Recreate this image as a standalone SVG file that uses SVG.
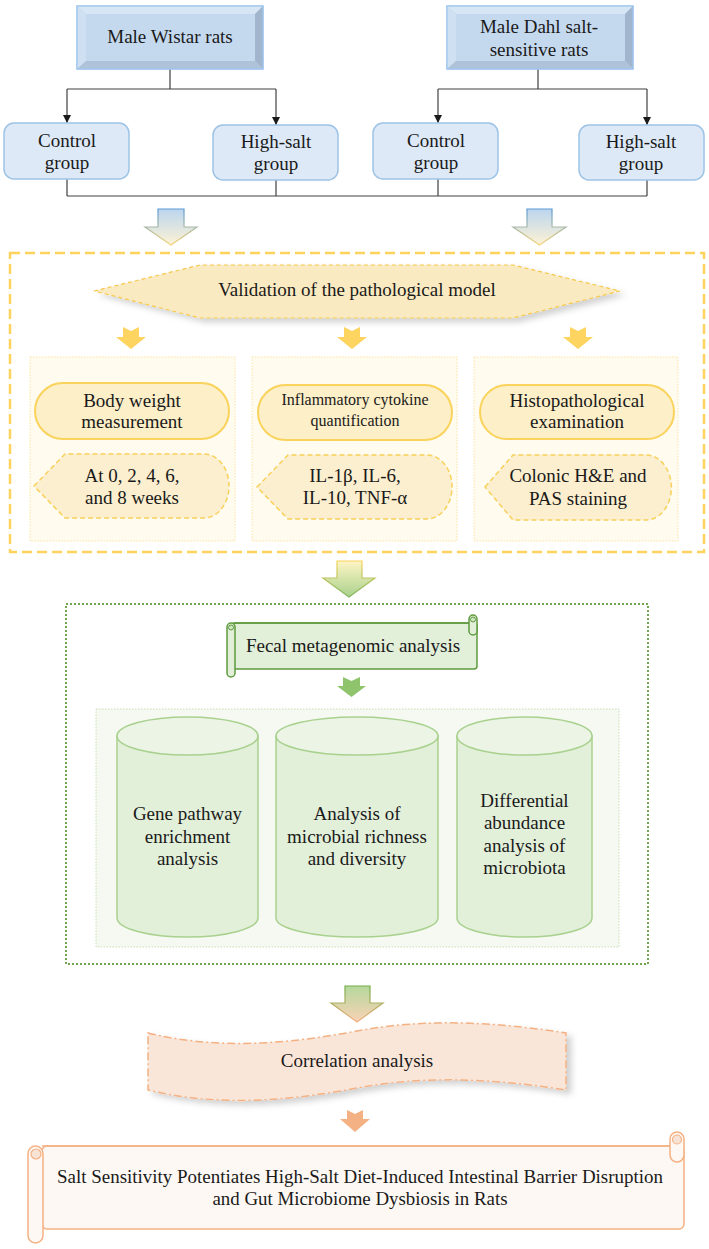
<svg xmlns="http://www.w3.org/2000/svg" width="709" height="1249" viewBox="0 0 709 1249">
<defs>
<style>
text{font-family:"Liberation Serif","Times New Roman",serif;font-size:19px;fill:#1a1a1a;text-anchor:middle}
.sm{font-size:16px}
.grp{fill:#dde9f6;stroke:#9dc3e6;stroke-width:1.5}
.ln{fill:none;stroke:#404040;stroke-width:1.2}
.panelY{fill:#fffbef;stroke:#fbe3a0;stroke-width:1;stroke-dasharray:1.5,1.5}
.pill{fill:#fdefc8;stroke:#fad35c;stroke-width:2}
.pent{fill:#fcefcf;stroke:#f8d15b;stroke-width:1.5;stroke-dasharray:5,3}
.sarY{fill:#fdd45f}
.cylB{fill:#e2efd9;stroke:#a9d18e;stroke-width:1.5}
.cylT{fill:#ebf4e5;stroke:#a9d18e;stroke-width:1.5}
</style>
<marker id="ah" viewBox="0 0 10 10" refX="10" refY="5" markerWidth="8" markerHeight="8" markerUnits="userSpaceOnUse" orient="auto">
<path d="M0,0 L10,5 L0,10 Z" fill="#1a1a1a"/>
</marker>
<linearGradient id="gBA" x1="0" y1="0" x2="0" y2="1"><stop offset="0" stop-color="#bcd5ef"/><stop offset="1" stop-color="#fdf3d4"/></linearGradient>
<linearGradient id="gBAs" x1="0" y1="0" x2="0" y2="1"><stop offset="0" stop-color="#5b9bd5"/><stop offset="1" stop-color="#f4d57b"/></linearGradient>
<linearGradient id="gYG" x1="0" y1="0" x2="0" y2="1"><stop offset="0" stop-color="#fff5c4"/><stop offset="1" stop-color="#a9d18e"/></linearGradient>
<linearGradient id="gYGs" x1="0" y1="0" x2="0" y2="1"><stop offset="0" stop-color="#f5d35c"/><stop offset="1" stop-color="#7fb561"/></linearGradient>
<linearGradient id="gGO" x1="0" y1="0" x2="0" y2="1"><stop offset="0" stop-color="#b5d89c"/><stop offset="1" stop-color="#f9d2b6"/></linearGradient>
<linearGradient id="gGOs" x1="0" y1="0" x2="0" y2="1"><stop offset="0" stop-color="#70ad47"/><stop offset="1" stop-color="#f4b183"/></linearGradient>
<filter id="sh" x="-10%" y="-20%" width="130%" height="150%">
<feDropShadow dx="5" dy="4" stdDeviation="3" flood-color="#000" flood-opacity="0.18"/>
</filter>
</defs>

<!-- connectors -->
<g id="connectors">
<path class="ln" d="M170,69 V89 M67,89 H276 M538,69 V89 M438,89 H647"/>
<path class="ln" d="M67,89 V123" marker-end="url(#ah)"/>
<path class="ln" d="M276,89 V125" marker-end="url(#ah)"/>
<path class="ln" d="M438,89 V123" marker-end="url(#ah)"/>
<path class="ln" d="M647,89 V125" marker-end="url(#ah)"/>
<path class="ln" d="M67,179 V196 M276,180 V196 M438,179 V196 M647,180 V196 M67,196 H647"/>
<path d="M158,209 H184 V227 H197 L171,245 L145,227 H158 Z" fill="url(#gBA)" stroke="url(#gBAs)" stroke-width="1.2"/>
<path d="M527,209 H552 V227 H566 L539.5,245 L513,227 H527 Z" fill="url(#gBA)" stroke="url(#gBAs)" stroke-width="1.2"/>
<path class="sarY" d="M123,327 L131,331 L139,327 V337 H146 L131,349 L116,337 H123 Z"/>
<path class="sarY" d="M344,327 L352,331 L360,327 V337 H367 L352,349 L337,337 H344 Z"/>
<path class="sarY" d="M570,327 L578,331 L586,327 V337 H593 L578,349 L563,337 H570 Z"/>
<path d="M337,561 H362 V578 H375 L349,597 L323,578 H337 Z" fill="url(#gYG)" stroke="url(#gYGs)" stroke-width="1.2"/>
<path d="M343,677 L351.5,681 L360,677 V686 H366 L351.5,697 L337,686 H343 Z" fill="#8fc46c"/>
<path d="M345,986 H370 V1003 H383 L357,1022 L331,1003 H345 Z" fill="url(#gGO)" stroke="url(#gGOs)" stroke-width="1.2"/>
<path d="M347,1110 L355,1114 L363,1110 V1119 H370 L355,1132 L340,1119 H347 Z" fill="#f4b183"/>
</g>

<!-- top nodes -->
<g id="wistar">
<rect x="77" y="6" width="186" height="63" fill="#b8cfe7" stroke="#9fc5ef" stroke-width="1.2"/>
<path d="M77,6 H263 L255,14 H86 Z" fill="#d7e6f5"/>
<path d="M77,6 L86,14 V61 L77,69 Z" fill="#cfe0f2"/>
<path d="M263,6 V69 L255,61 V14 Z" fill="#a1b6cc"/>
<path d="M77,69 H263 L255,61 H86 Z" fill="#aec3d9"/>
<rect x="86" y="14" width="169" height="47" fill="#c5d9ee"/>
<rect x="77" y="6" width="186" height="63" fill="none" stroke="#9fc5ef" stroke-width="1.2"/>
<text x="170" y="43">Male Wistar rats</text>
</g>
<g id="dahl">
<rect x="447" y="6" width="186" height="63" fill="#b8cfe7" stroke="#9fc5ef" stroke-width="1.2"/>
<path d="M447,6 H633 L625,14 H456 Z" fill="#d7e6f5"/>
<path d="M447,6 L456,14 V61 L447,69 Z" fill="#cfe0f2"/>
<path d="M633,6 V69 L625,61 V14 Z" fill="#a1b6cc"/>
<path d="M447,69 H633 L625,61 H456 Z" fill="#aec3d9"/>
<rect x="456" y="14" width="169" height="47" fill="#c5d9ee"/>
<rect x="447" y="6" width="186" height="63" fill="none" stroke="#9fc5ef" stroke-width="1.2"/>
<text x="539" y="33">Male Dahl salt-</text>
<text x="539" y="56">sensitive rats</text>
</g>
<g id="w-control"><rect class="grp" x="4" y="123" width="125" height="56" rx="10"/><text x="67" y="147">Control</text><text x="67" y="169">group</text></g>
<g id="w-highsalt"><rect class="grp" x="213" y="125" width="125" height="55" rx="10"/><text x="276" y="148">High-salt</text><text x="276" y="170">group</text></g>
<g id="d-control"><rect class="grp" x="373" y="123" width="125" height="56" rx="10"/><text x="436" y="147">Control</text><text x="436" y="169">group</text></g>
<g id="d-highsalt"><rect class="grp" x="579" y="125" width="125" height="55" rx="10"/><text x="641" y="148">High-salt</text><text x="641" y="170">group</text></g>

<!-- validation section -->
<g id="validation-frame">
<rect x="10" y="253" width="694" height="299" fill="none" stroke="#fdd35e" stroke-width="2.5" stroke-dasharray="10,5"/>
</g>
<g id="validation">
<path d="M94,291 L200,265 H513 L620,291 L513,318 H200 Z" fill="#faeac1" stroke="#f5c84a" stroke-width="1.2" stroke-dasharray="4,3" filter="url(#sh)"/>
<text x="357" y="296">Validation of the pathological model</text>
</g>
<g id="panel-bw">
<rect class="panelY" x="30" y="357" width="205" height="184"/>
<rect class="pill" x="35" y="383" width="194" height="56" rx="28"/>
<text x="132" y="407">Body weight</text><text x="132" y="428">measurement</text>
<path class="pent" d="M34,486 L65,454 H204 A25,32 0 0 1 204,518 H65 Z"/>
<text x="132" y="482">At 0, 2, 4, 6,</text><text x="132" y="504">and 8 weeks</text>
</g>
<g id="panel-cyt">
<rect class="panelY" x="252" y="357" width="205" height="184"/>
<rect class="pill" x="258" y="385" width="194" height="55" rx="27.5"/>
<text class="sm" x="355" y="405">Inflammatory cytokine</text><text class="sm" x="355" y="426">quantification</text>
<path class="pent" d="M257,487 L288,455 H427 A25,32 0 0 1 427,519 H288 Z"/>
<text x="355" y="482">IL-1β, IL-6,</text><text x="355" y="504">IL-10, TNF-α</text>
</g>
<g id="panel-histo">
<rect class="panelY" x="474" y="357" width="204" height="184"/>
<rect class="pill" x="480" y="385" width="194" height="54" rx="27"/>
<text x="577" y="407">Histopathological</text><text x="577" y="428">examination</text>
<path class="pent" d="M485,487 L513,455 H646 A25,32 0 0 1 646,520 H513 Z"/>
<text x="578" y="482">Colonic H&amp;E and</text><text x="578" y="505">PAS staining</text>
</g>

<!-- metagenomic section -->
<g id="meta-frame">
<rect x="66" y="604" width="582" height="360" fill="none" stroke="#70a64f" stroke-width="2" stroke-dasharray="2,2"/>
</g>
<g id="fecal">
<rect x="233" y="623" width="244" height="46" rx="3" fill="#e2efd9" stroke="#5f9a3f" stroke-width="1.5"/>
<rect x="469" y="615" width="8" height="20" rx="4" fill="#e2efd9" stroke="#5f9a3f" stroke-width="1.5"/>
<circle cx="473" cy="619.5" r="2.5" fill="#cfe3c1" stroke="#5f9a3f" stroke-width="1"/>
<path d="M233,623 H469" stroke="#5f9a3f" stroke-width="1.5"/>
<rect x="227" y="623" width="8" height="54" rx="4" fill="#e2efd9" stroke="#5f9a3f" stroke-width="1.5"/>
<circle cx="231" cy="627.5" r="2.5" fill="#cfe3c1" stroke="#5f9a3f" stroke-width="1"/>
<text x="353" y="652">Fecal metagenomic analysis</text>
</g>
<g id="meta-panel">
<rect x="96" y="709" width="523" height="238" fill="#f5f9f2" stroke="#c5e0b4" stroke-width="1" stroke-dasharray="1.5,1.5"/>
</g>
<g id="cyl-gene">
<path class="cylB" d="M117,736 V918 A70.5,19 0 0 0 258,918 V736 Z"/>
<ellipse class="cylT" cx="187.5" cy="736" rx="70.5" ry="19"/>
<text x="187.5" y="820">Gene pathway</text><text x="187.5" y="843">enrichment</text><text x="187.5" y="865">analysis</text>
</g>
<g id="cyl-rich">
<path class="cylB" d="M276,736 V918 A81,19 0 0 0 438,918 V736 Z"/>
<ellipse class="cylT" cx="357" cy="736" rx="81" ry="19"/>
<text x="357" y="820">Analysis of</text><text x="357" y="843">microbial richness</text><text x="357" y="865">and diversity</text>
</g>
<g id="cyl-diff">
<path class="cylB" d="M457,736 V918 A67.5,19 0 0 0 592,918 V736 Z"/>
<ellipse class="cylT" cx="524.5" cy="736" rx="67.5" ry="19"/>
<text x="524.5" y="807">Differential</text><text x="524.5" y="829">abundance</text><text x="524.5" y="852">analysis of</text><text x="524.5" y="874">microbiota</text>
</g>

<!-- correlation -->
<g id="correlation">
<path d="M148,1033 C218,1050 288,1044 357,1031 C426,1018 496,1022 566,1033 V1090 C496,1079 426,1075 357,1088 C288,1101 218,1107 148,1090 Z" fill="#fae6d9" stroke="#f4b183" stroke-width="1.5" stroke-dasharray="8,3,2,3" filter="url(#sh)"/>
<text x="357" y="1067">Correlation analysis</text>
</g>

<!-- conclusion -->
<g id="conclusion">
<rect x="42" y="1146" width="642" height="83" rx="5" fill="#fdf8f3" stroke="#f4b183" stroke-width="1.5"/>
<rect x="670" y="1132" width="14" height="30" rx="7" fill="#fdf8f3" stroke="#f4b183" stroke-width="1.5"/>
<circle cx="677" cy="1139.5" r="4.5" fill="#f6e3d6" stroke="#f4b183" stroke-width="1.2"/>
<path d="M42,1146 H670" stroke="#f4b183" stroke-width="1.5"/>
<rect x="28" y="1146" width="15" height="97" rx="7.5" fill="#fdf8f3" stroke="#f4b183" stroke-width="1.5"/>
<circle cx="36" cy="1154" r="5" fill="#f6e3d6" stroke="#f4b183" stroke-width="1.2"/>
<text x="360" y="1183" textLength="606" lengthAdjust="spacingAndGlyphs">Salt Sensitivity Potentiates High-Salt Diet-Induced Intestinal Barrier Disruption</text>
<text x="360" y="1205" textLength="295" lengthAdjust="spacingAndGlyphs">and Gut Microbiome Dysbiosis in Rats</text>
</g>
</svg>
